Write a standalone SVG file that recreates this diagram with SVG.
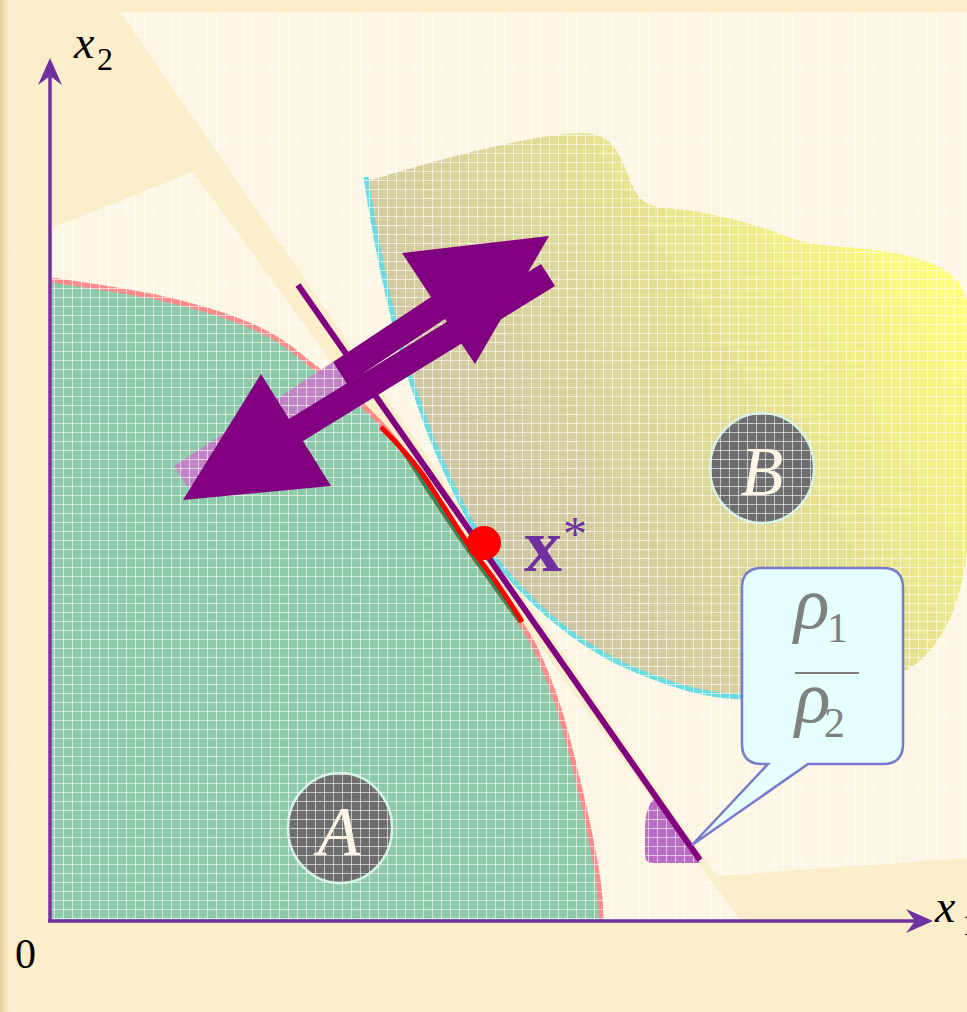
<svg xmlns="http://www.w3.org/2000/svg" width="967" height="1012" viewBox="0 0 967 1012">
<style>
.serif{font-family:"Liberation Serif","Times New Roman",serif}
.it{font-style:italic}
.axis{stroke:#7030A0;stroke-width:3.5;fill:none}
.circ{fill:#6E6E6E;stroke:#D2F2E2;stroke-width:2.5}
.lbl{fill:#FFF6E6;font-size:70px;text-anchor:middle}
</style>
<defs>
  <pattern id="grid" width="9" height="9" patternUnits="userSpaceOnUse">
    <path d="M0 0.5H9M0.5 0V9" stroke="#FFFFFF" stroke-width="1" fill="none" opacity="0.6"/>
  </pattern>
  <linearGradient id="bgrad" gradientUnits="userSpaceOnUse" x1="430" y1="600" x2="960" y2="260">
    <stop offset="0" stop-color="#C8BEA8"/>
    <stop offset="0.45" stop-color="#DCD69A"/>
    <stop offset="1" stop-color="#FFFF78"/>
  </linearGradient>
  <linearGradient id="edge" x1="0" x2="1" y1="0" y2="0">
    <stop offset="0" stop-color="#E6CF98"/>
    <stop offset="1" stop-color="#FBEECB" stop-opacity="0"/>
  </linearGradient>
  <path id="aShape" d="M52,280 C70,283 125,290 160,298 C195,306 235,318 260,330 C283,341 295,352 310,364 C327,377 346,391 360,403 C374,416 384,426 395,440 C406,454 417,473 428,490 C439,507 452,526 462,541 C472,556 478,564 490,580 C501,597 520,620 531,640 C542,660 549,680 556,700 C563,720 567,738 573,760 C578,782 585,810 589,830 C593,850 596,865 598,880 C600,895 601,913 602,920 L52,920 Z"/>
  <path id="bShape" d="M372,180 C420,165 520,136 580,133 C610,132 618,150 628,175 C636,195 640,205 665,208 C700,210 740,220 775,232 C800,242 820,246 845,247 C880,250 920,255 945,270 C957,278 964,290 967,300 L967,550 C962,600 945,645 910,668 C870,692 800,698 750,697 C710,697 680,688 640,672 C560,640 498,572 470,520 C405,400 380,270 366,177 Z"/>
  <clipPath id="gridclip">
    <polygon points="120,12 967,12 967,858 717,876"/>
    <polygon points="52,228 193,172 740,920 52,920"/>
    <use href="#aShape"/>
    <use href="#bShape"/>
  </clipPath>
  <marker id="ah" markerUnits="userSpaceOnUse" viewBox="-10 -13 29 26" markerWidth="29" markerHeight="26" refX="0" refY="0" orient="auto">
    <path d="M18,0 L-9,-12 L0,0 L-9,12 Z" fill="#7030A0"/>
  </marker>
</defs>

<g id="background">
  <rect x="0" y="0" width="967" height="1012" fill="#FBEECB"/>
  <rect x="0" y="0" width="12" height="1012" fill="url(#edge)"/>
  <polygon points="120,12 967,12 967,858 717,876" fill="#FDF6E3"/>
  <polygon points="52,228 193,172 740,920 52,920" fill="#FDF6E3"/>
</g>

<g id="regionA">
  <use href="#aShape" fill="#8DCAAA"/>
  <path d="M52,280 C70,283 125,290 160,298 C195,306 235,318 260,330 C283,341 295,352 310,364 C327,377 346,391 360,403 C374,416 384,426 395,440 C406,454 417,473 428,490 C439,507 452,526 462,541 C472,556 478,564 490,580 C501,597 520,620 531,640 C542,660 549,680 556,700 C563,720 567,738 573,760 C578,782 585,810 589,830 C593,850 596,865 598,880 C600,895 601,913 602,920" fill="none" stroke="#FF8A8A" stroke-width="5"/>
</g>

<g id="regionB">
  <use href="#bShape" fill="url(#bgrad)"/>
  <path d="M366,177 C380,270 405,400 470,520 C498,572 560,640 640,672 C680,688 710,697 750,697 C770,697 790,698 800,698" fill="none" stroke="#6ADBE0" stroke-width="5"/>
</g>

<g id="shadows">
  <polygon points="174,466 188,488 347,384 333,362" fill="#C084C4"/>
  <path d="M700,863 L656,798 C648,802 645,815 645,830 L645,855 Q645,863 653,863 Z" fill="#B86CC2"/>
</g>

<g id="circleA"><ellipse class="circ" cx="340" cy="828" rx="52" ry="55"/></g>
<g id="circleB"><ellipse class="circ" cx="762" cy="468" rx="52" ry="55"/></g>

<rect id="gridOverlay" x="0" y="0" width="967" height="1012" fill="url(#grid)" clip-path="url(#gridclip)"/>

<g id="labelA"><text class="serif it lbl" x="339" y="855">A</text></g>
<g id="labelB"><text class="serif it lbl" x="762" y="495">B</text></g>

<g id="connectors">
  <path d="M395,440 C406,454 417,473 428,490 C439,507 452,526 462,541 C472,556 478,564 490,580 C501,597 512,610 520,622" fill="none" stroke="#2E8B57" stroke-width="4"/>
  <path d="M381,427 C398,444 421,470 433,490 C444,507 456,526 466,541 C476,556 486,568 496,582 C504,594 514,608 522,622" fill="none" stroke="#FF0000" stroke-width="5"/>
  <line x1="298" y1="285" x2="700" y2="860" stroke="#800080" stroke-width="6"/>
  <polygon points="549,236 475,364 445,319 347,384 333,362 431,297 402,253" fill="#800080"/>
  <polygon points="183,500 261,374 289,419 541,264 555,286 303,441 331,486" fill="#800080"/>
  <line class="axis" x1="50" y1="921" x2="50" y2="76" marker-end="url(#ah)"/>
  <line class="axis" x1="48" y1="921" x2="915" y2="921" marker-end="url(#ah)"/>
</g>

<g id="callout">
  <path d="M762,568 H883 Q903,568 903,588 V744 Q903,764 883,764 H808 L692,845 L768,764 H762 Q742,764 742,744 V588 Q742,568 762,568 Z" fill="#E6FFFF" stroke="#7A7ACB" stroke-width="2.5"/>
  <text class="serif it" x="794" y="628" font-size="74" fill="#808080">ρ</text>
  <text class="serif" x="827" y="642" font-size="42" fill="#808080">1</text>
  <line x1="795" y1="673" x2="859" y2="673" stroke="#808080" stroke-width="2"/>
  <text class="serif it" x="795" y="722" font-size="74" fill="#808080">ρ</text>
  <text class="serif" x="824" y="737" font-size="42" fill="#808080">2</text>
</g>

<g id="xstar">
  <circle cx="484" cy="543" r="17" fill="#FF0000"/>
  <text class="serif" x="524" y="571" font-size="76" font-weight="bold" fill="#7030A0">x</text>
  <text class="serif" x="563" y="550" font-size="48" fill="#7030A0">*</text>
</g>

<g id="axisLabels">
  <text class="serif it" x="74" y="58" font-size="46" fill="#000">x</text>
  <text class="serif" x="97" y="70" font-size="32" fill="#000">2</text>
  <text class="serif it" x="935" y="922" font-size="46" fill="#000">x</text>
  <text class="serif" x="962" y="935" font-size="32" fill="#000">1</text>
  <text class="serif" x="15" y="968" font-size="42" fill="#000">0</text>
</g>
</svg>
